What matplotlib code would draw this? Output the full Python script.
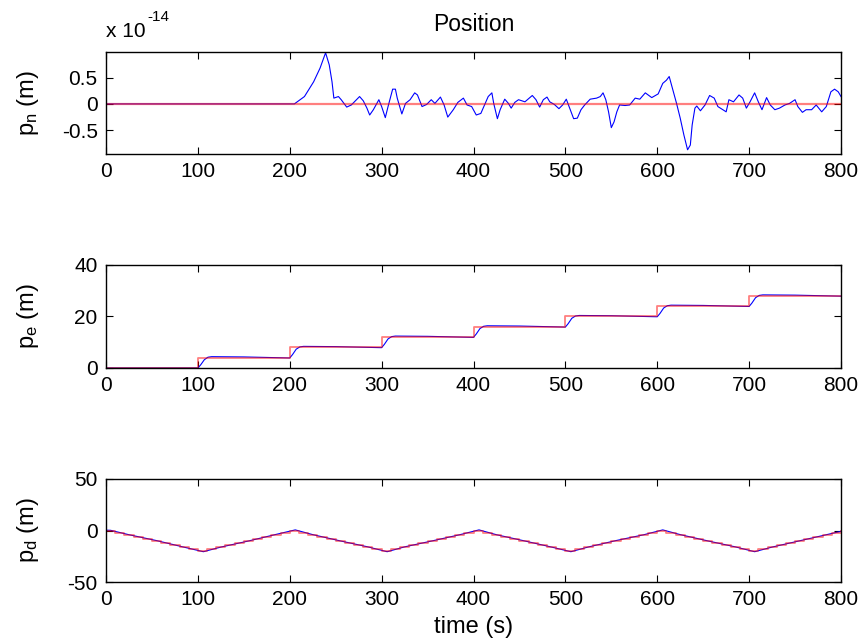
import matplotlib
matplotlib.use("Agg")
import matplotlib.pyplot as plt

plt.rcParams["font.family"] = ["Liberation Sans", "DejaVu Sans"]
plt.rcParams["font.size"] = 15
plt.rcParams["axes.unicode_minus"] = False

# p_n: truth is zero, estimate is numerical noise (units of 1e-14 m)
pn_true_t = [0, 800]
pn_true = [0, 0]
pn_t = [0, 205, 216, 226, 233, 239, 243, 246, 248, 253,
        256, 262, 267, 276, 280, 284, 287, 291, 297, 300,
        304, 307, 312, 315, 317, 322, 326, 331, 336, 339,
        344, 349, 354, 358, 364, 368, 372, 378, 383, 389,
        393, 398, 403, 408, 412, 416, 420, 422, 426, 429,
        434, 438, 441, 445, 449, 456, 464, 468, 472, 476,
        480, 483, 488, 493, 497, 501, 504, 509, 513, 517,
        521, 527, 534, 538, 541, 544, 547, 550, 553, 556,
        559, 565, 570, 576, 581, 587, 594, 601, 606, 610,
        613, 616, 621, 625, 629, 633, 636, 638, 641, 643,
        647, 652, 657, 662, 666, 675, 678, 683, 689, 693,
        697, 701, 706, 710, 714, 719, 723, 728, 733, 739,
        744, 750, 753, 758, 762, 768, 773, 779, 784, 789,
        793, 797, 800]
pn_hat = [0, 0, 0.14, 0.42, 0.68, 0.97, 0.74, 0.42, 0.11, 0.14,
          0.08, -0.06, -0.02, 0.14, 0.06, -0.08, -0.21, -0.11, 0.08, -0.05,
          -0.26, -0.05, 0.28, 0.28, 0.11, -0.19, 0.01, 0.08, 0.21, 0.17,
          -0.05, -0.01, 0.08, 0.01, 0.13, -0.02, -0.25, -0.11, 0.03, 0.11,
          -0.02, -0.05, -0.21, -0.18, -0.02, 0.14, 0.21, 0.01, -0.28, -0.11,
          0.09, 0.01, -0.08, 0.03, 0.08, 0.04, 0.16, 0.08, -0.06, 0.08,
          0.13, 0.04, -0.01, -0.09, -0.02, 0.09, -0.05, -0.28, -0.27, -0.11,
          -0.02, 0.09, 0.11, 0.14, 0.21, 0.08, -0.15, -0.45, -0.34, -0.15,
          -0.02, -0.03, -0.02, 0.11, 0.09, 0.21, 0.12, 0.19, 0.39, 0.45,
          0.52, 0.33, 0.01, -0.27, -0.59, -0.87, -0.78, -0.40, -0.08, -0.04,
          -0.13, -0.02, 0.16, 0.11, -0.05, -0.15, 0.08, 0.04, 0.17, 0.11,
          -0.08, 0.04, 0.21, 0.04, -0.11, 0.12, -0.02, -0.11, -0.08, -0.02,
          0.01, 0.08, -0.05, -0.16, -0.11, -0.11, -0.02, -0.15, -0.05, 0.23,
          0.28, 0.23, 0.14]

# p_e: stepped truth and lagging estimate
pe_true_t = [0, 100, 200, 300, 400, 500, 600, 700, 800]
pe_true = [0, 4, 8, 12, 16, 20, 24, 28, 28]
pe_t = [0, 100, 103, 107, 111, 115, 150, 175, 199,
        200, 203, 207, 211, 215, 250, 275, 299,
        300, 303, 307, 311, 315, 350, 375, 399,
        400, 403, 407, 411, 415, 450, 475, 499,
        500, 503, 507, 511, 515, 550, 575, 599,
        600, 603, 607, 611, 615, 650, 675, 699,
        700, 703, 707, 711, 715, 750, 775, 800]
pe_hat = [0, 0, 1.2, 3.2, 4.2, 4.4, 4.3, 4.1, 3.9,
          3.9, 5.2, 7.3, 8.2, 8.4, 8.3, 8.1, 7.9,
          7.9, 9.2, 11.3, 12.2, 12.4, 12.3, 12.1, 11.9,
          11.9, 13.2, 15.3, 16.2, 16.4, 16.3, 16.1, 15.9,
          15.9, 17.2, 19.3, 20.2, 20.4, 20.3, 20.1, 19.9,
          19.9, 21.2, 23.3, 24.2, 24.4, 24.3, 24.1, 23.9,
          23.9, 25.2, 27.3, 28.2, 28.4, 28.3, 28.1, 27.9]

# p_d: staircase triangle (10 s holds) and estimate
pd_true_t = list(range(0, 810, 10))
pd_true = [0, -2, -4, -6, -8, -10, -12, -14, -16, -18,
           -20, -18, -16, -14, -12, -10, -8, -6, -4, -2,
           0, -2, -4, -6, -8, -10, -12, -14, -16, -18,
           -20, -18, -16, -14, -12, -10, -8, -6, -4, -2,
           0, -2, -4, -6, -8, -10, -12, -14, -16, -18,
           -20, -18, -16, -14, -12, -10, -8, -6, -4, -2,
           0, -2, -4, -6, -8, -10, -12, -14, -16, -18,
           -20, -18, -16, -14, -12, -10, -8, -6, -4, -2,
           0]
pd_t = [0, 5, 25, 55, 85, 106, 125, 155, 185, 206, 225, 255, 285,
        306, 325, 355, 385, 406, 425, 455, 485, 506, 525, 555, 585,
        606, 625, 655, 685, 706, 725, 755, 785, 800]
pd_hat = [0.3, 0.2, -4.1, -9.8, -16.2, -20.6, -16.1, -10.2, -3.8, 0.6, -4.0, -10.1, -15.9,
          -20.6, -15.9, -10.1, -4.1, 0.6, -4.1, -10.0, -16.1, -20.6, -16.0, -9.8, -4.2,
          0.6, -4.0, -10.1, -15.9, -20.6, -16.1, -10.0, -3.9, -0.8]

W, H = 861, 642
fig = plt.figure(figsize=(W / 100, H / 100), dpi=100)


def make_ax(top_px, bot_px):
    ax = fig.add_axes([106 / W, 1 - bot_px / H, 735 / W, (bot_px - top_px) / H])
    ax.tick_params(direction="in", top=True, right=True, length=5, width=0.8, pad=6)
    for s in ax.spines.values():
        s.set_linewidth(1.0)
    ax.set_xlim(0, 800)
    ax.set_xticks(range(0, 801, 100))
    return ax


red = (1.0, 0.0, 0.0, 0.5)
LBL = 17

ax1 = make_ax(52, 154)
ax1.plot(pn_t, pn_hat, color="blue", lw=0.8)
ax1.plot(pn_true_t, pn_true, color=red, lw=1.6)
ax1.set_ylim(-0.95, 0.985)
ax1.set_yticks([-0.5, 0, 0.5])
ax1.set_yticklabels(["-0.5", "0", "0.5"])
ax1.set_ylabel(r"$\mathregular{p_n}$ (m)", fontsize=LBL)
ax1.yaxis.set_label_coords(-0.088, 0.5)
ax1.set_title("Position", fontsize=LBL - 0.5, pad=15)
fig.text(106 / W, 1 - 37 / H, "x 10", fontsize=15, ha="left", va="baseline")
fig.text(147 / W, 1 - 21 / H, "-14", fontsize=11, ha="left", va="baseline")

ax2 = make_ax(265, 368)
ax2.plot(pe_t, pe_hat, color="blue", lw=0.8)
ax2.step(pe_true_t, pe_true, where="post", color=red, lw=1.3)
ax2.set_ylim(0, 40)
ax2.set_yticks([0, 20, 40])
ax2.set_ylabel(r"$\mathregular{p_e}$ (m)", fontsize=LBL)
ax2.yaxis.set_label_coords(-0.088, 0.5)

ax3 = make_ax(479, 582)
ax3.plot(pd_t, pd_hat, color="blue", lw=0.8)
ax3.step(pd_true_t, pd_true, where="post", color=red, lw=1.3)
ax3.set_ylim(-50, 50)
ax3.set_yticks([-50, 0, 50])
ax3.set_ylabel(r"$\mathregular{p_d}$ (m)", fontsize=LBL)
ax3.yaxis.set_label_coords(-0.088, 0.5)
ax3.set_xlabel("time (s)", fontsize=LBL)
ax3.xaxis.set_label_coords(0.5, -0.33)

fig.savefig("out.png", dpi=100)
